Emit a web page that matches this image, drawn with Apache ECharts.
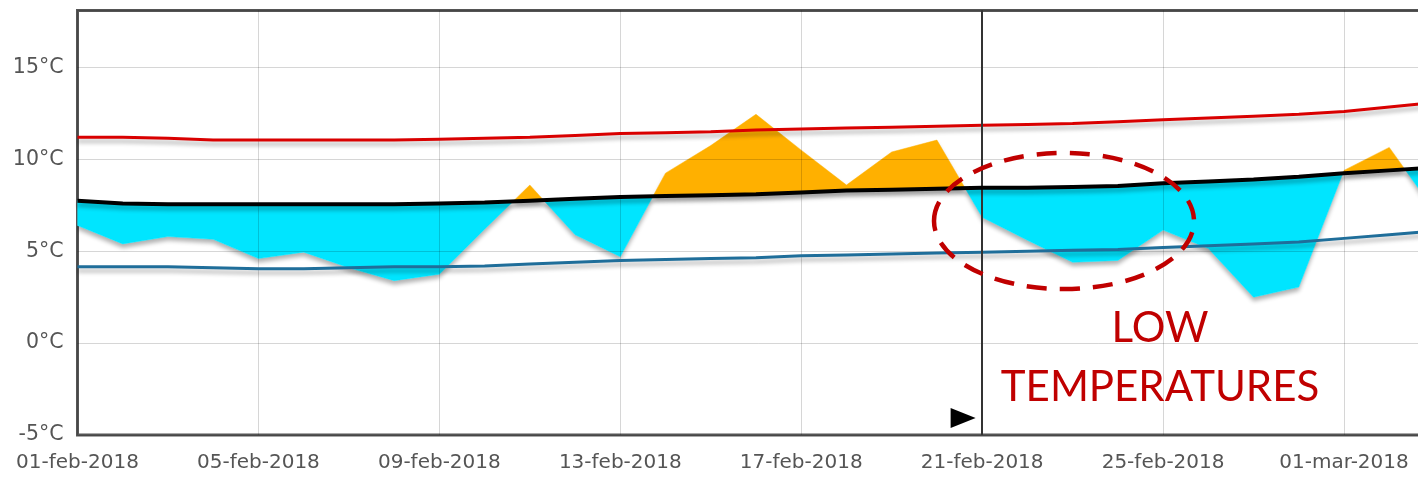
<!DOCTYPE html>
<html>
<head>
<meta charset="utf-8">
<script src="https://cdn.jsdelivr.net/npm/echarts@6/dist/echarts.min.js"></script>
<style>
  html, body { margin: 0; padding: 0; background: #fff; overflow: hidden; }
  #main { width: 1440px; height: 477px; }
</style>
</head>
<body>
<div id="main"></div>
<script>
// daily data, 01-feb-2018 .. 03-mar-2018
var dates = ['2018-02-01','2018-02-02','2018-02-03','2018-02-04','2018-02-05','2018-02-06','2018-02-07',
  '2018-02-08','2018-02-09','2018-02-10','2018-02-11','2018-02-12','2018-02-13','2018-02-14','2018-02-15',
  '2018-02-16','2018-02-17','2018-02-18','2018-02-19','2018-02-20','2018-02-21','2018-02-22','2018-02-23',
  '2018-02-24','2018-02-25','2018-02-26','2018-02-27','2018-02-28','2018-03-01','2018-03-02','2018-03-03'];
var tickLabels = ['01-feb-2018','05-feb-2018','09-feb-2018','13-feb-2018','17-feb-2018','21-feb-2018','25-feb-2018','01-mar-2018'];

var actual   = [6.4, 5.4, 5.8, 5.65, 4.6, 4.95, 4.1, 3.4, 3.75, 6.2, 8.6, 5.9, 4.7, 9.25, 10.75, 12.45,
                10.5, 8.6, 10.4, 11.05, 6.85, 5.6, 4.4, 4.5, 6.15, 5.15, 2.5, 3.05, 9.4, 10.65, 7.2];
var normMax  = [11.2, 11.2, 11.15, 11.05, 11.05, 11.05, 11.05, 11.05, 11.1, 11.15, 11.2, 11.3, 11.4, 11.45, 11.5,
                11.6, 11.65, 11.7, 11.75, 11.8, 11.85, 11.9, 11.95, 12.05, 12.15, 12.25, 12.35, 12.45, 12.6, 12.85, 13.1];
var normMean = [7.75, 7.6, 7.55, 7.55, 7.55, 7.55, 7.55, 7.55, 7.6, 7.65, 7.75, 7.85, 7.95, 8.0, 8.05,
                8.1, 8.2, 8.3, 8.35, 8.4, 8.45, 8.45, 8.5, 8.55, 8.7, 8.8, 8.9, 9.05, 9.25, 9.4, 9.55];
var normMin  = [4.15, 4.15, 4.15, 4.1, 4.05, 4.05, 4.1, 4.15, 4.15, 4.2, 4.3, 4.4, 4.5, 4.55, 4.6,
                4.65, 4.75, 4.8, 4.85, 4.9, 4.95, 5.0, 5.05, 5.1, 5.2, 5.3, 5.4, 5.5, 5.7, 5.9, 6.1];
var todayIndex = 20; // 21-feb-2018

function pairs(arr) {
  return arr.map(function (v, i) { return [i, v]; });
}

// split the band between actual and normal mean into runs above / below
function buildRuns() {
  var runs = [], cur = null;
  for (var i = 0; i < dates.length; i++) {
    var d = actual[i] - normMean[i];
    var s = d >= 0 ? 1 : -1;
    if (!cur) {
      cur = { sign: s, a: [[i, actual[i]]], m: [[i, normMean[i]]] };
      continue;
    }
    if (s !== cur.sign) {
      var dp = actual[i - 1] - normMean[i - 1];
      var t = dp / (dp - d);
      var xc = i - 1 + t, yc = actual[i - 1] + t * (actual[i] - actual[i - 1]);
      cur.a.push([xc, yc]); cur.m.push([xc, yc]);
      runs.push(cur);
      cur = { sign: s, a: [[xc, yc]], m: [[xc, yc]] };
    }
    cur.a.push([i, actual[i]]);
    cur.m.push([i, normMean[i]]);
  }
  runs.push(cur);
  return runs;
}

var myChart = echarts.init(document.getElementById('main'));

var lineShadow = { shadowColor: 'rgba(0,0,0,0.3)', shadowBlur: 4, shadowOffsetY: 4 };

var option = {
  animation: false,
  grid: {
    left: 77.5, right: 1, top: 10.5, bottom: 42,
    show: true, borderColor: '#555', borderWidth: 3
  },
  xAxis: {
    type: 'value', min: 0, max: 30.1, interval: 4, z: 3,
    axisLine: { show: false }, axisTick: { show: false },
    splitLine: { show: true, lineStyle: { color: 'rgba(0,0,0,0.16)', width: 1 } },
    axisLabel: {
      showMaxLabel: false, margin: 18, color: '#555',
      fontFamily: 'DejaVu Sans', fontSize: 20,
      formatter: function (v) { return tickLabels[Math.round(v / 4)] || ''; }
    }
  },
  yAxis: {
    type: 'value', min: -5, max: 18.1, interval: 5, z: 3,
    axisLine: { show: false }, axisTick: { show: false },
    splitLine: { show: true, lineStyle: { color: 'rgba(0,0,0,0.16)', width: 1 } },
    axisLabel: {
      showMaxLabel: false, margin: 14, color: '#555',
      fontFamily: 'DejaVu Sans', fontSize: 20.5,
      formatter: '{value}°C'
    }
  },
  graphic: [
    {
      type: 'ellipse', z: 100,
      shape: { cx: 1064, cy: 221, rx: 130, ry: 68 },
      style: { fill: 'none', stroke: '#c00000', lineWidth: 4.5, lineDash: [20, 13] }
    },
    {
      type: 'text', z: 100, x: 1160, y: 328,
      style: { text: 'LOW', fill: '#c00000', font: '42px Lato', align: 'center', verticalAlign: 'middle' }
    },
    {
      type: 'text', z: 100, x: 1160, y: 387,
      style: { text: 'TEMPERATURES', fill: '#c00000', font: '42px Lato', align: 'center', verticalAlign: 'middle' }
    }
  ],
  series: [
    {
      type: 'custom', z: 2, clip: true,
      data: [[0]],
      renderItem: function (params, api) {
        var runs = buildRuns();
        var children = [];
        // one shape under everything just for the drop shadow
        var outline = pairs(actual).concat(pairs(normMean).reverse()).map(function (p) { return api.coord(p); });
        children.push({
          type: 'polygon', shape: { points: outline },
          style: { fill: '#fff', shadowColor: 'rgba(0,0,0,0.3)', shadowBlur: 4, shadowOffsetY: 4 }
        });
        runs.forEach(function (r) {
          var pts = r.a.concat(r.m.slice().reverse()).map(function (p) { return api.coord(p); });
          var col = r.sign > 0 ? '#ffb000' : '#00e5ff';
          children.push({
            type: 'polygon', shape: { points: pts },
            style: { fill: col, stroke: col, lineWidth: 0.5 }
          });
        });
        return { type: 'group', children: children };
      }
    },
    {
      name: 'max', type: 'line', z: 4, data: pairs(normMax), showSymbol: false, silent: true,
      lineStyle: Object.assign({ color: '#d90000', width: 3 }, lineShadow)
    },
    {
      name: 'min', type: 'line', z: 4, data: pairs(normMin), showSymbol: false, silent: true,
      lineStyle: Object.assign({ color: '#1f6e9a', width: 3 }, lineShadow)
    },
    {
      name: 'mean', type: 'line', z: 5, data: pairs(normMean), showSymbol: false, silent: true,
      lineStyle: Object.assign({ color: '#000', width: 4 }, lineShadow),
      markLine: {
        silent: true, symbol: 'none', label: { show: false },
        lineStyle: { color: '#333', width: 2, type: 'solid', shadowBlur: 0, shadowOffsetY: 0 },
        data: [{ xAxis: todayIndex }]
      },
      markPoint: {
        silent: true,
        data: [{
          coord: [todayIndex, -5], symbol: 'triangle', symbolRotate: -90,
          symbolSize: [20, 25], symbolOffset: [-19, -17],
          itemStyle: { color: '#000' }, label: { show: false }
        }]
      }
    }
  ]
};

myChart.setOption(option);
</script>
</body>
</html>
